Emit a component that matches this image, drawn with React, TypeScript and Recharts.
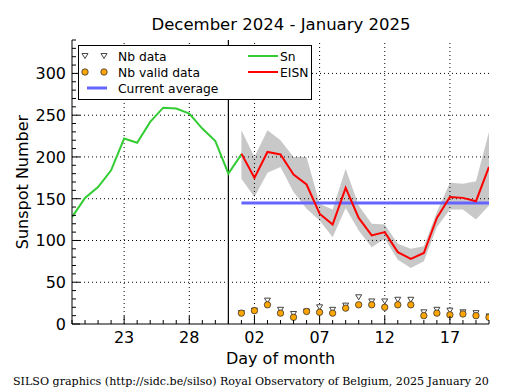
import React from 'react';
import { ComposedChart, Line, Area, Scatter, XAxis, YAxis, ReferenceLine } from 'recharts';

// x values are days counted from 1 Dec 2024: 19 = Dec 19, 31 = Dec 31, 32 = Jan 1, 51 = Jan 20
const snDays = [19, 20, 21, 22, 23, 24, 25, 26, 27, 28, 29, 30, 31, 32];
const snValues = [128, 151, 164, 184, 222, 217, 242, 259, 258, 252, 234, 219, 180, 203];

const eisnDays = [32, 33, 34, 35, 36, 37, 38, 39, 40, 41, 42, 43, 44, 45, 46, 47, 48, 49, 50, 51];
const eisnValues = [204, 175, 206, 203, 179, 167, 132, 119, 163, 127, 106, 110, 86, 78, 85, 127, 152, 151, 147, 188];
const eisnHigh = [232, 200, 232, 220, 200, 200, 144, 137, 186, 142, 120, 119, 96, 90, 93, 134, 169, 168, 171, 230];
const eisnLow = [174, 152, 181, 188, 158, 138, 124, 104, 139, 112, 92, 102, 77, 67, 75, 116, 137, 137, 125, 142];
const nbData = [13, 16, 28, 17, 12, 15, 20, 17, 22, 32, 27, 27, 29, 29, 14, 17, 16, 14, 13, 9];
const nbValid = [13, 16, 23, 13, 8, 15, 14, 13, 19, 23, 23, 20, 23, 23, 10, 13, 11, 12, 10, 8];
const currentAverage = 145;

const xMajor = [23, 28, 33, 38, 43, 48];
const yMajor = [0, 50, 100, 150, 200, 250, 300];
const xMinor = Array.from({ length: 33 }, (_, i) => 19 + i);
const yMinor = Array.from({ length: 35 }, (_, i) => i * 10);

const FONT = '"DejaVu Sans", sans-serif';

const rows = xMinor.map((t) => {
  const si = snDays.indexOf(t);
  const ei = eisnDays.indexOf(t);
  return {
    t,
    sn: si >= 0 ? snValues[si] : null,
    eisn: ei >= 0 ? eisnValues[ei] : null,
    band: ei >= 0 ? [eisnLow[ei], eisnHigh[ei]] : null,
    avg: ei >= 0 ? currentAverage : null,
  };
});
const nbRows = eisnDays.map((t, i) => ({ t, v: nbData[i] }));
const nbValidRows = eisnDays.map((t, i) => ({ t, v: nbValid[i] }));

const dayLabel = (t: number) => {
  const d = t > 31 ? t - 31 : t;
  return d < 10 ? '0' + d : String(d);
};

const BottomTick = (p: any) => {
  const v = p.payload.value;
  const major = xMajor.includes(v);
  return (
    <g>
      <line x1={p.x} x2={p.x} y1={p.y} y2={p.y - (major ? 8 : 4)} stroke="#000" />
      {major && (
        <text x={p.x} y={p.y + 19} textAnchor="middle" fontSize={16} fontFamily={FONT} fill="#000">
          {dayLabel(v)}
        </text>
      )}
    </g>
  );
};

const TopTick = (p: any) => {
  const major = xMajor.includes(p.payload.value);
  return <line x1={p.x} x2={p.x} y1={p.y} y2={p.y + (major ? 8 : 4)} stroke="#000" />;
};

const LeftTick = (p: any) => {
  const v = p.payload.value;
  const major = v % 50 === 0;
  return (
    <g>
      <line x1={p.x} x2={p.x + (major ? 8 : 4)} y1={p.y} y2={p.y} stroke="#000" />
      {major && yMajor.includes(v) && (
        <text x={p.x - 6} y={p.y + 6} textAnchor="end" fontSize={16} fontFamily={FONT} fill="#000">
          {v}
        </text>
      )}
    </g>
  );
};

const RightTick = (p: any) => {
  const major = p.payload.value % 50 === 0;
  return <line x1={p.x} x2={p.x - (major ? 8 : 4)} y1={p.y} y2={p.y} stroke="#000" />;
};

const DownTriangle = (p: any) => {
  const { cx, cy } = p;
  if (cx == null || cy == null) return <g />;
  return <path d={`M${cx - 3},${cy - 2.5} L${cx + 3},${cy - 2.5} L${cx},${cy + 2.5} Z`} fill="#fff" stroke="#444" strokeWidth={1} />;
};

const Dot = (p: any) => {
  const { cx, cy } = p;
  if (cx == null || cy == null) return <g />;
  return <circle cx={cx} cy={cy} r={3.2} fill="#ffa500" stroke="#333" strokeWidth={0.8} />;
};

const LegendBox = () => (
  <svg width={234} height={55} style={{ position: 'absolute', left: 78, top: 45 }}>
    <rect x={0.5} y={0.5} width={233} height={54} fill="#fff" stroke="#000" />
    <g fontFamily={FONT} fontSize={12.3} fill="#000">
      <DownTriangle cx={7} cy={11} />
      <DownTriangle cx={26} cy={11} />
      <text x={40} y={15.5}>Nb data</text>
      <Dot cx={7} cy={27} />
      <Dot cx={26} cy={27} />
      <text x={40} y={31.5}>Nb valid data</text>
      <line x1={9} x2={29} y1={43} y2={43} stroke="#6464ff" strokeWidth={3} />
      <text x={40} y={47.5}>Current average</text>
      <line x1={170} x2={200} y1={11} y2={11} stroke="#33cc33" strokeWidth={2} />
      <text x={202} y={15.5}>Sn</text>
      <line x1={170} x2={200} y1={27} y2={27} stroke="#ff0000" strokeWidth={2} />
      <text x={202} y={31.5}>EISN</text>
    </g>
  </svg>
);

export default function App() {
  return (
    <div style={{ position: 'absolute', left: 0, top: 0, width: 515, height: 390, background: '#fff' }}>
      <div style={{ position: 'absolute', left: 0, top: 15, width: 562, textAlign: 'center', fontFamily: FONT, fontSize: 16.5, whiteSpace: 'nowrap' }}>
        December 2024 - January 2025
      </div>
      <ComposedChart width={515} height={390} data={rows} margin={{ top: 40, right: 26, bottom: 36, left: 0 }}>
        <XAxis
          type="number"
          dataKey="t"
          domain={[19, 51]}
          ticks={xMinor}
          interval={0}
          tick={BottomTick}
          tickLine={false}
          tickSize={0}
          tickMargin={0}
          height={30}
          axisLine={{ stroke: '#000' }}
          allowDataOverflow
          label={{ value: 'Day of month', position: 'insideBottom', offset: -10, fontSize: 16, fontFamily: FONT, fill: '#000' }}
        />
        <XAxis
          xAxisId="top"
          orientation="top"
          type="number"
          dataKey="t"
          domain={[19, 51]}
          ticks={xMinor}
          interval={0}
          tick={TopTick}
          tickLine={false}
          tickSize={0}
          tickMargin={0}
          height={0}
          axisLine={{ stroke: '#000' }}
          allowDataOverflow
        />
        <YAxis
          type="number"
          domain={[0, 340]}
          ticks={yMinor}
          interval={0}
          tick={LeftTick}
          tickLine={false}
          tickSize={0}
          tickMargin={0}
          width={72}
          axisLine={{ stroke: '#000' }}
          allowDataOverflow
          label={{
            content: () => (
              <text x={22} y={182} transform="rotate(-90 22 182)" textAnchor="middle" dominantBaseline="central" fontSize={16} fontFamily={FONT} fill="#000">
                Sunspot Number
              </text>
            ),
          }}
        />
        <YAxis
          yAxisId="right"
          orientation="right"
          type="number"
          domain={[0, 340]}
          ticks={yMinor}
          interval={0}
          tick={RightTick}
          tickLine={false}
          tickSize={0}
          tickMargin={0}
          width={0}
          axisLine={{ stroke: '#000' }}
          allowDataOverflow
        />
        {yMajor.filter((v) => v > 0).map((v) => (
          <ReferenceLine key={'h' + v} y={v} stroke="#000" strokeDasharray="1 3" />
        ))}
        {xMajor.map((v) => (
          <ReferenceLine key={'v' + v} x={v} stroke="#000" strokeDasharray="1 3" />
        ))}
        <ReferenceLine x={31} stroke="#000" strokeWidth={1.2} />
        <Area dataKey="band" stroke="none" fill="#c8c8c8" fillOpacity={1} isAnimationActive={false} />
        <Line dataKey="avg" stroke="#6464ff" strokeWidth={3} dot={false} isAnimationActive={false} />
        <Line dataKey="sn" stroke="#33cc33" strokeWidth={2} dot={false} isAnimationActive={false} />
        <Line dataKey="eisn" stroke="#ff0000" strokeWidth={2} dot={false} isAnimationActive={false} />
        <Scatter data={nbRows} dataKey="v" shape={DownTriangle} isAnimationActive={false} />
        <Scatter data={nbValidRows} dataKey="v" shape={Dot} isAnimationActive={false} />
      </ComposedChart>
      <LegendBox />
      <div style={{ position: 'absolute', left: 13, top: 375, fontFamily: '"DejaVu Serif", serif', fontSize: 11.1, whiteSpace: 'nowrap' }}>
        SILSO graphics (http://sidc.be/silso) Royal Observatory of Belgium, 2025 January 20
      </div>
    </div>
  );
}
